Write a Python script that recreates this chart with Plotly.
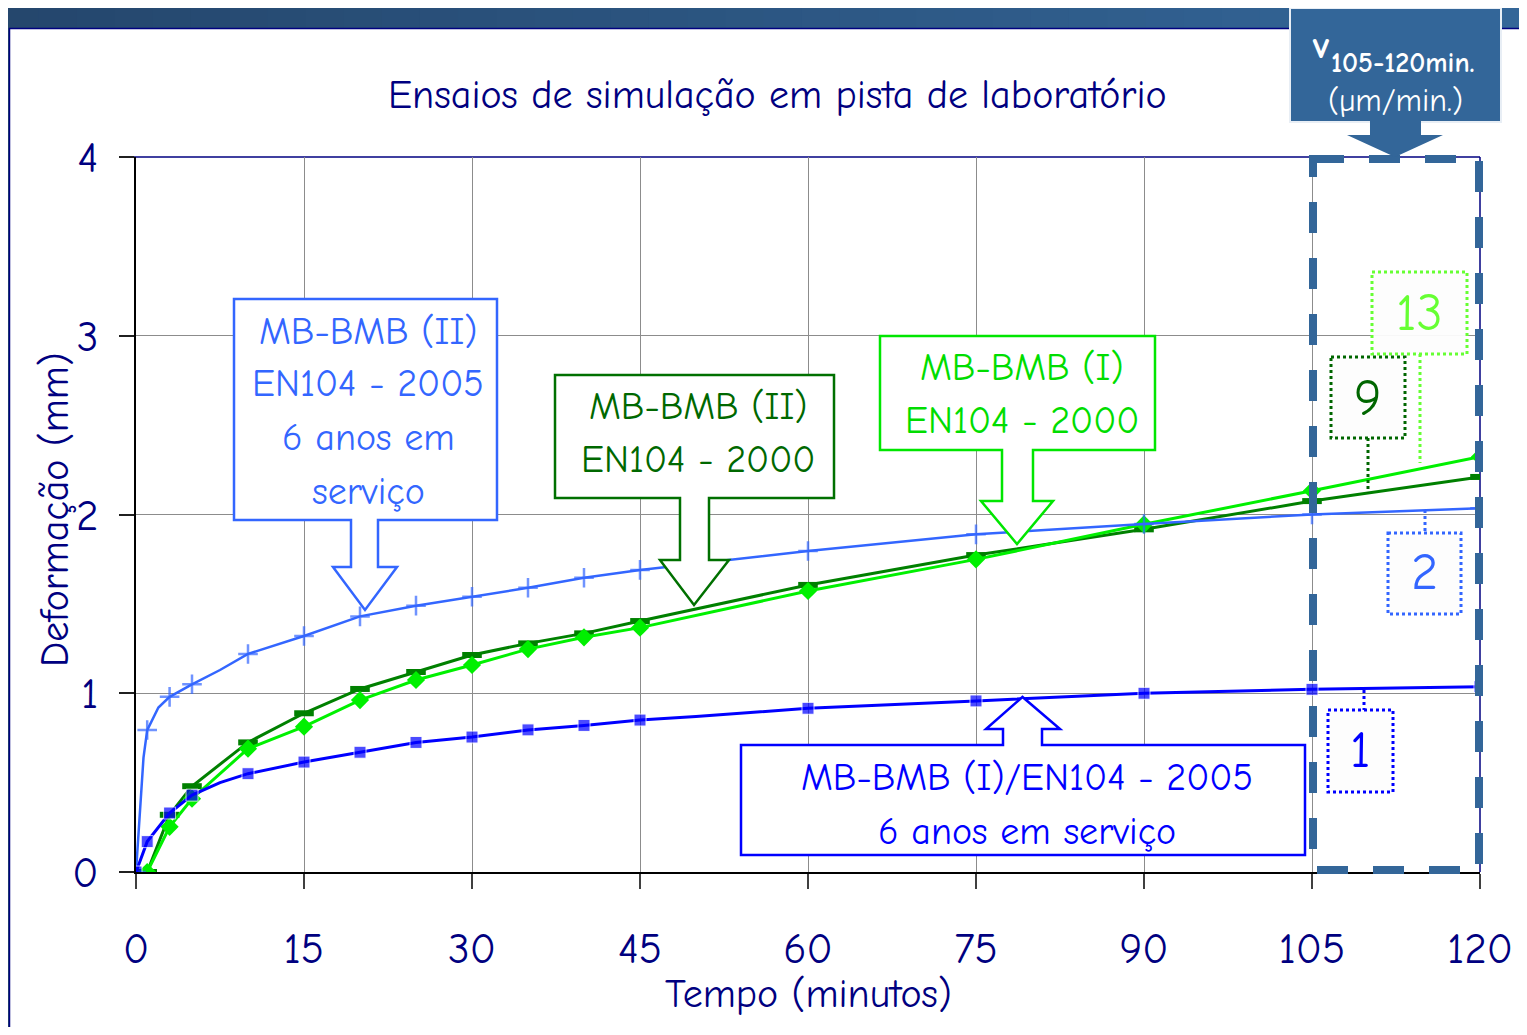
import plotly.graph_objects as go

# ---------------- data ----------------
# MB-BMB (I)/EN104 - 2005, 6 anos em serviço  (blue squares)
blue_x = [0, 1, 3, 5, 7.5, 10, 15, 20, 25, 30, 35, 40, 45, 50, 55, 60, 75, 90, 105, 120]
blue_y = [0, 0.17, 0.33, 0.43, 0.50, 0.55, 0.615, 0.67, 0.725, 0.755, 0.795, 0.82, 0.85,
          0.87, 0.895, 0.916, 0.957, 1.0, 1.022, 1.037]
blue_marked = [1, 1, 1, 1, 0, 1, 1, 1, 1, 1, 1, 1, 1, 0, 0, 1, 1, 1, 1, 1]

# MB-BMB (II) EN104 - 2005, 6 anos em serviço  (light blue crosses)
lblue_x = [0, 0.33, 0.67, 1, 2, 3, 5, 7.5, 10, 15, 20, 25, 30, 35, 40, 45, 60, 75, 90, 105, 120]
lblue_y = [0, 0.34, 0.64, 0.794, 0.92, 0.98, 1.05, 1.13, 1.22, 1.32, 1.43, 1.49, 1.54, 1.59,
           1.646, 1.69, 1.796, 1.889, 1.947, 2.0, 2.035]
lblue_marked = [1, 0, 0, 1, 0, 1, 1, 0, 1, 1, 1, 1, 1, 1, 1, 1, 1, 1, 1, 1, 1]

# MB-BMB (II) EN104 - 2000  (dark green dashes)
dgreen_x = [1, 3, 5, 10, 15, 20, 25, 30, 35, 40, 45, 60, 75, 90, 105, 120]
dgreen_y = [0, 0.32, 0.48, 0.725, 0.888, 1.024, 1.119, 1.214, 1.279, 1.335, 1.404,
            1.606, 1.773, 1.917, 2.075, 2.21]

# MB-BMB (I) EN104 - 2000  (bright green diamonds)
lgreen_x = [1, 3, 5, 10, 15, 20, 25, 30, 35, 40, 45, 60, 75, 90, 105, 120]
lgreen_y = [0, 0.253, 0.41, 0.69, 0.813, 0.962, 1.074, 1.158, 1.247, 1.313, 1.367,
            1.572, 1.749, 1.945, 2.133, 2.323]

x_ticks = [0, 15, 30, 45, 60, 75, 90, 105, 120]
y_ticks = [0, 1, 2, 3, 4]

# velocity labels (µm/min) between 105 and 120 min
v_labels = ["13", "9", "2", "1"]

title_text = "Ensaios de simulação em pista de laboratório"
x_title = "Tempo (minutos)"
y_title = "Deformação (mm)"

# ---------------- styling ----------------
FONT = "Comic Sans MS, Comic Neue, Noto Sans, sans-serif"
NAVY = "#000080"
STEEL = "#336699"
C_BLUE = "#0000FF"
C_LBLUE = "#3366FF"
C_DGREEN = "#008000"
C_LGREEN = "#00F000"

OFF = 8                      # page body margin of the html page
W, H = 1527 - OFF, 1035 - 2 * OFF
L, R, T, B = 136, 1480, 157, 872   # plot area in reference-page pixels


def P(px, py):
    """reference-page pixel -> paper coordinates"""
    return (px - L) / (R - L), (B - py) / (B - T)


def path(pts):
    s = []
    for i, (px, py) in enumerate(pts):
        x, y = P(px, py)
        s.append(("M" if i == 0 else "L") + f"{x:.5f},{y:.5f}")
    return " ".join(s) + " Z"


fig = go.Figure()

fig.add_trace(go.Scatter(
    x=dgreen_x, y=dgreen_y, mode="lines+markers", name="MB-BMB (II) EN104 - 2000",
    line=dict(color=C_DGREEN, width=3),
    marker=dict(symbol="line-ew", size=14, color=C_DGREEN, line=dict(width=6, color=C_DGREEN))))
fig.add_trace(go.Scatter(
    x=lgreen_x, y=lgreen_y, mode="lines+markers", name="MB-BMB (I) EN104 - 2000",
    line=dict(color=C_LGREEN, width=3),
    marker=dict(symbol="diamond", size=14, color=C_LGREEN)))
fig.add_trace(go.Scatter(
    x=lblue_x, y=lblue_y, mode="lines+markers", name="MB-BMB (II) EN104 - 2005",
    line=dict(color=C_LBLUE, width=2.5),
    marker=dict(symbol="cross-thin", size=[14 * m for m in lblue_marked], color=C_LBLUE,
                line=dict(width=2.5, color=C_LBLUE))))
fig.add_trace(go.Scatter(
    x=blue_x, y=blue_y, mode="lines+markers", name="MB-BMB (I)/EN104 - 2005",
    line=dict(color=C_BLUE, width=3),
    marker=dict(symbol="square", size=[12 * m for m in blue_marked], color=C_BLUE)))

shapes = []
annotations = []

# ---- slide frame: gradient top bar + left strip ----
N = 40
c0 = (37, 71, 109)
c1 = (52, 102, 152)
for i in range(N):
    t = i / (N - 1)
    col = "rgb({},{},{})".format(*[int(a + (b - a) * t) for a, b in zip(c0, c1)])
    x0, y0 = P(i * 1527 / N, 0)
    x1, y1 = P((i + 1) * 1527 / N + 1, 28)
    shapes.append(dict(type="rect", xref="paper", yref="paper", x0=x0, x1=x1, y0=y0, y1=y1,
                       fillcolor=col, line=dict(width=0), layer="below"))
x0, y0 = P(0, 0)
x1, y1 = P(9, 1035)
shapes.append(dict(type="rect", xref="paper", yref="paper", x0=x0, x1=x1, y0=y0, y1=y1,
                   fillcolor="rgb(37,71,109)", line=dict(width=0), layer="below"))
for (a, b) in [((9, 28.5), (1527, 28.5)), ((9.5, 28), (9.5, 1035))]:
    xa, ya = P(*a)
    xb, yb = P(*b)
    shapes.append(dict(type="line", xref="paper", yref="paper", x0=xa, y0=ya, x1=xb, y1=yb,
                       line=dict(color=NAVY, width=1.5), layer="below"))

# ---- top & right plot border (navy) ----
for (a, b) in [((L - 14, T), (R, T)), ((R, T), (R, B))]:
    xa, ya = P(*a)
    xb, yb = P(*b)
    shapes.append(dict(type="line", xref="paper", yref="paper", x0=xa, y0=ya, x1=xb, y1=yb,
                       line=dict(color=NAVY, width=1.5), layer="below"))

# ---- callouts ----
def callout_down(box, stem, head_y, head, tip, color):
    (bx0, by0, bx1, by1) = box
    (sx0, sx1) = stem
    (hx0, hx1) = head
    pts = [(bx0, by0), (bx1, by0), (bx1, by1), (sx1, by1), (sx1, head_y), (hx1, head_y),
           tip, (hx0, head_y), (sx0, head_y), (sx0, by1), (bx0, by1)]
    shapes.append(dict(type="path", xref="paper", yref="paper", path=path(pts),
                       fillcolor="white", line=dict(color=color, width=2.5), layer="above"))


def callout_up(box, stem, head_y, head, tip, color):
    (bx0, by0, bx1, by1) = box
    (sx0, sx1) = stem
    (hx0, hx1) = head
    pts = [(bx0, by0), (sx0, by0), (sx0, head_y), (hx0, head_y), tip, (hx1, head_y),
           (sx1, head_y), (sx1, by0), (bx1, by0), (bx1, by1), (bx0, by1)]
    shapes.append(dict(type="path", xref="paper", yref="paper", path=path(pts),
                       fillcolor="white", line=dict(color=color, width=2.5), layer="above"))


def text(px, py, s, color, size, xanchor="center", **kw):
    x, y = P(px, py)
    annotations.append(dict(xref="paper", yref="paper", x=x, y=y, text=s, showarrow=False,
                            xanchor=xanchor, yanchor="middle",
                            font=dict(family=FONT, size=size, color=color), **kw))


callout_down((234, 299, 497, 520), (351, 378), 567, (333, 397), (365, 610), C_LBLUE)
text(368, 332, "MB-BMB (II)", C_LBLUE, 38)
text(368, 384, "EN104 - 2005", C_LBLUE, 38)
text(368, 438, "6 anos em", C_LBLUE, 38)
text(368, 492, "serviço", C_LBLUE, 38)

callout_down((555, 375, 834, 498), (680, 709), 560, (660, 729), (694, 605), "#007000")
text(698, 407, "MB-BMB (II)", "#006800", 38)
text(698, 460, "EN104 - 2000", "#006800", 38)

callout_down((880, 336, 1155, 450), (1002, 1033), 501, (981, 1053), (1017, 544), "#00E600")
text(1022, 368, "MB-BMB (I)", "#00DD00", 38)
text(1022, 421, "EN104 - 2000", "#00DD00", 38)

callout_up((741, 745, 1305, 855), (1003, 1042), 729, (986, 1060), (1022.5, 697), C_BLUE)
text(1027, 778, "MB-BMB (I)/EN104 - 2005", C_BLUE, 38)
text(1027, 832, "6 anos em serviço", C_BLUE, 38)

# ---- dashed selection rectangle 105-120 min ----
x0, y0 = P(1313, 159)
x1, y1 = P(1479, 870)
shapes.append(dict(type="rect", xref="paper", yref="paper", x0=x0, y0=y0, x1=x1, y1=y1,
                   line=dict(color=STEEL, width=8, dash="31px,25px"), layer="above"))

# ---- velocity box (top right) ----
x0, y0 = P(1290, 8)
x1, y1 = P(1501, 122)
shapes.append(dict(type="rect", xref="paper", yref="paper", x0=x0, y0=y0, x1=x1, y1=y1,
                   fillcolor=STEEL, line=dict(color="#E8EEF5", width=2), layer="above"))
shapes.append(dict(type="path", xref="paper", yref="paper",
                   path=path([(1370, 121), (1421, 121), (1421, 135), (1443, 135), (1395, 157),
                              (1347, 135), (1370, 135)]),
                   fillcolor=STEEL, line=dict(width=0), layer="above"))
text(1310, 46, "<b>v</b>", "white", 38, xanchor="left")
text(1329, 63, "<b>105-120min.</b>", "white", 28, xanchor="left")
text(1395, 100, "(µm/min.)", "white", 32)

# ---- dotted number boxes ----
boxes = [
    ((1372, 272, 1467, 354), ((1420, 354), (1420, 463)), (1419, 313), "#66FF33"),
    ((1331, 357, 1405, 438), ((1368, 438), (1368, 493)), (1368, 398), "#006600"),
    ((1388, 533, 1461, 614), ((1425, 510), (1425, 533)), (1424, 572), C_LBLUE),
    ((1328, 710, 1393, 792), ((1364, 690), (1364, 710)), (1360, 750), C_BLUE),
]
for (bx, ld, tp, col), lab in zip(boxes, v_labels):
    xa, ya = P(*ld[0])
    xb, yb = P(*ld[1])
    shapes.append(dict(type="line", xref="paper", yref="paper", x0=xa, y0=ya, x1=xb, y1=yb,
                       line=dict(color=col, width=3, dash="dot"), layer="above"))
    x0, y0 = P(bx[0], bx[1])
    x1, y1 = P(bx[2], bx[3])
    shapes.append(dict(type="rect", xref="paper", yref="paper", x0=x0, y0=y0, x1=x1, y1=y1,
                       fillcolor="rgba(253,253,253,0.95)", line=dict(color=col, width=3, dash="dot"),
                       layer="above"))
    text(tp[0], tp[1], lab, col, 52)

# ---- titles ----
text(777, 95, title_text, NAVY, 40)
text(808, 994, x_title, NAVY, 40)
text(55, 510, y_title, NAVY, 40, textangle=-90)

fig.update_layout(
    width=W, height=H,
    margin=dict(l=L - OFF, r=W - (R - OFF), t=T - OFF, b=H - (B - OFF), autoexpand=False),
    paper_bgcolor="white", plot_bgcolor="white",
    showlegend=False,
    font=dict(family=FONT, color=NAVY, size=36),
    shapes=shapes, annotations=annotations,
    xaxis=dict(range=[0, 120], tickvals=x_ticks, ticktext=[str(v) for v in x_ticks],
               showgrid=True, gridcolor="#8C8C8C", gridwidth=1,
               showline=True, linecolor="black", linewidth=2,
               ticks="outside", ticklen=15, tickcolor="#404040", tickwidth=1.5,
               ticklabelstandoff=22, zeroline=False,
               tickfont=dict(family=FONT, size=43, color=NAVY)),
    yaxis=dict(range=[0, 4], tickvals=y_ticks, ticktext=[str(v) for v in y_ticks],
               showgrid=True, gridcolor="#8C8C8C", gridwidth=1,
               showline=True, linecolor="black", linewidth=2,
               ticks="outside", ticklen=15, tickcolor="#202020", tickwidth=1.5,
               ticklabelstandoff=12, zeroline=False,
               tickfont=dict(family=FONT, size=43, color=NAVY)),
)

fig.write_html("out.html")
